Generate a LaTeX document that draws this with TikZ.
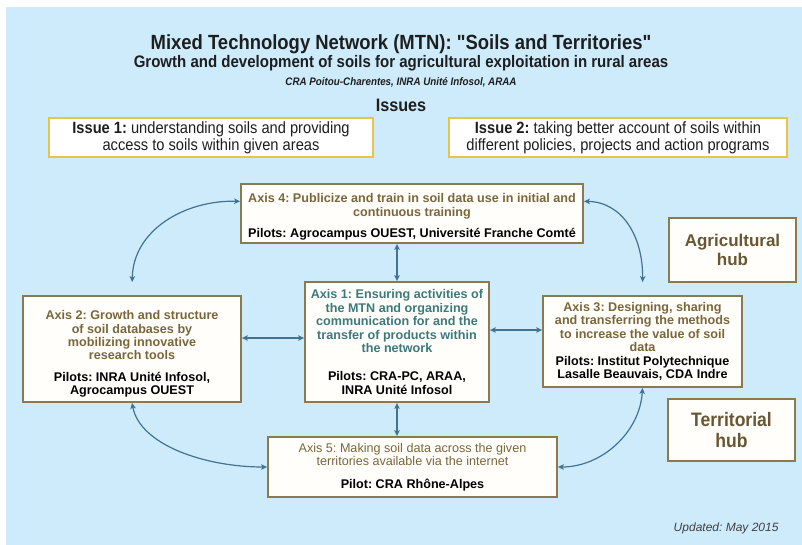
\documentclass[tikz,border=0pt]{standalone}
\usepackage{fontspec}
\setmainfont{Liberation Sans}
\newfontfamily\narrowsans[FakeStretch=0.9]{Liberation Sans}
\usetikzlibrary{arrows.meta,calc}
\frenchspacing

\definecolor{sky}{RGB}{206,235,251}
\definecolor{issueline}{RGB}{232,196,72}
\definecolor{boxline}{RGB}{140,121,78}
\definecolor{boxfill}{RGB}{255,254,250}
\definecolor{axbrown}{RGB}{122,102,58}
\definecolor{axteal}{RGB}{58,122,122}
\definecolor{hubbrown}{RGB}{105,86,50}
\definecolor{link}{RGB}{66,115,145}
\definecolor{ink}{RGB}{30,30,30}

% a black line inside an axis box
\newcommand{\pilot}[1]{\textcolor{black}{#1}}
% extra head room above the first line of a box
\newcommand{\headroom}[1]{\rule{0pt}{#1}}

\begin{document}
\begin{tikzpicture}[x=1pt,y=-1pt,
  axisbox/.style={draw=boxline, line width=1.8pt, fill=boxfill, inner sep=0pt,
    align=center, text=axbrown, font=\bfseries\fontsize{12.6}{13.4}\selectfont},
  issuebox/.style={draw=issueline, line width=1.8pt, fill=white, inner sep=0pt,
    align=center, text=ink, font=\narrowsans\fontsize{16.3}{16.8}\selectfont},
  hubbox/.style={draw=boxline, line width=1.8pt, fill=boxfill, inner sep=0pt,
    align=center, text=hubbrown},
  conn/.style={draw=link, line width=1.2pt,
    {Stealth[length=6pt,width=5.5pt,inset=1.5pt]}-{Stealth[length=6pt,width=5.5pt,inset=1.5pt]}}
]
\useasboundingbox (0,0) rectangle (802,545);
\fill[white] (0,0) rectangle (802,545);
\fill[sky] (6,7) rectangle (802,545);

% headings
\node[text=ink, font=\narrowsans\bfseries\fontsize{20.5}{22}\selectfont] (title) at (401,44)
  {Mixed Technology Network (MTN): "Soils and Territories"};
\node[text=ink, font=\narrowsans\bfseries\fontsize{16.7}{18}\selectfont] (subtitle) at (401,63)
  {Growth and development of soils for agricultural exploitation in rural areas};
\node[text=ink, font=\narrowsans\bfseries\itshape\fontsize{10.9}{12}\selectfont] (partners) at (401,82)
  {CRA Poitou-Charentes, INRA Unité Infosol, ARAA};
\node[text=ink, font=\narrowsans\bfseries\fontsize{18}{20}\selectfont] (issues) at (401,105) {Issues};

% issues
\node[issuebox, minimum width=324pt, minimum height=39pt] (issue1) at (211,137.5)
  {{\bfseries Issue 1:} understanding soils and providing\\access to soils within given areas};
\node[issuebox, minimum width=338pt, minimum height=39pt] (issue2) at (618,137.5)
  {{\bfseries Issue 2:} taking better account of soils within\\different policies, projects and action programs};

% axes
\node[axisbox, minimum width=342pt, minimum height=59pt] (axis4) at (412,213.5)
  {\headroom{16pt}Axis 4: Publicize and train in soil data use in initial and\\continuous training\\[8pt]
   \pilot{Pilots: Agrocampus OUEST, Université Franche Comté}};
\node[axisbox, minimum width=184pt, minimum height=120pt, text=axteal] (axis1) at (397,342)
  {Axis 1: Ensuring activities of\\the MTN and organizing\\communication for and the\\transfer of products within\\the network\\[15pt]
   \pilot{Pilots: CRA-PC, ARAA,}\\\pilot{INRA Unité Infosol}};
\node[axisbox, minimum width=218pt, minimum height=106pt] (axis2) at (132,349)
  {\headroom{19pt}Axis 2: Growth and structure\\of soil databases by\\mobilizing innovative\\research tools\\[8pt]
   \pilot{Pilots: INRA Unité Infosol,}\\\pilot{Agrocampus OUEST}};
\node[axisbox, minimum width=199pt, minimum height=91pt] (axis3) at (642.5,341.5)
  {Axis 3: Designing, sharing\\and transferring the methods\\to increase the value of soil\\data\\
   \pilot{Pilots: Institut Polytechnique}\\\pilot{Lasalle Beauvais, CDA Indre}};
\node[axisbox, minimum width=289pt, minimum height=60pt] (axis5) at (412.5,467)
  {\textmd{Axis 5: Making soil data across the given}\\\textmd{territories available via the internet}\\[9pt]
   \pilot{Pilot: CRA Rhône-Alpes}};

% hubs
\node[hubbox, minimum width=127pt, minimum height=64pt,
  font=\bfseries\fontsize{17}{19}\selectfont] (agrihub) at (732.5,250) {Agricultural\\hub};
\node[hubbox, minimum width=127pt, minimum height=62pt,
  font=\narrowsans\bfseries\fontsize{19.5}{21}\selectfont] (terrhub) at (731.5,430) {Territorial\\hub};

\node[anchor=east, text=ink!85, font=\itshape\fontsize{12}{14}\selectfont] (updated) at (782,528)
  {Updated: May 2015};

% links between axes
\coordinate (a4w) at ($(axis4.north west)!0.3!(axis4.south west)$);
\coordinate (a4e) at ($(axis4.north east)!0.3!(axis4.south east)$);
\draw[conn] (axis1.north) -- (axis1.north |- axis4.south);
\draw[conn] (axis1.south) -- (axis1.south |- axis5.north);
\draw[conn] (axis2.east |- 0,338) -- (axis1.west |- 0,338);
\draw[conn] (axis1.east |- 0,330) -- (axis3.west |- 0,330);
\draw[conn, shorten >=13pt] (a4w) .. controls (185,200) and (133,230) .. (axis2.north);
\draw[conn, shorten >=13pt] (a4e) .. controls (622,202) and (643,236) .. (axis3.north);
\draw[conn] (axis2.south) .. controls (140,445) and (205,467) .. (axis5.west);
\draw[conn] (axis3.south) .. controls (640,432) and (602,467) .. (axis5.east);
\end{tikzpicture}
\end{document}
